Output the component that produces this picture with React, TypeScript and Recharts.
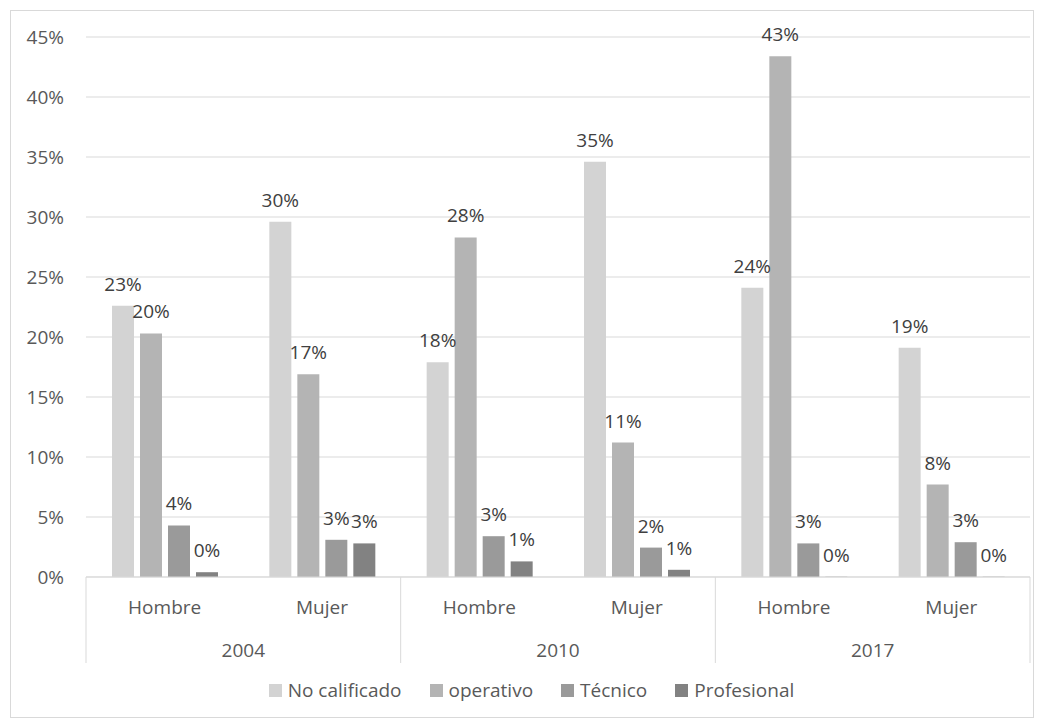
import { BarChart, Bar, XAxis, YAxis, CartesianGrid, Legend, LabelList } from "recharts";

const sexes = ["Hombre", "Mujer", "Hombre", "Mujer", "Hombre", "Mujer"];
const years = ["2004", "2004", "2010", "2010", "2017", "2017"];

const noCalificado = [22.6, 29.6, 17.9, 34.6, 24.1, 19.1];
const operativo = [20.3, 16.9, 28.3, 11.2, 43.4, 7.7];
const tecnico = [4.3, 3.1, 3.4, 2.45, 2.8, 2.9];
const profesional = [0.4, 2.8, 1.3, 0.6, 0, 0];

const yTicks = [0, 5, 10, 15, 20, 25, 30, 35, 40, 45];

const series = [
	{ key: "noCalificado", name: "No calificado", color: "#d3d3d3" },
	{ key: "operativo", name: "operativo", color: "#b4b4b4" },
	{ key: "tecnico", name: "Técnico", color: "#9a9a9a" },
	{ key: "profesional", name: "Profesional", color: "#828282" },
];

const data = sexes.map((s, i) => ({
	sexo: s,
	noCalificado: noCalificado[i],
	operativo: operativo[i],
	tecnico: tecnico[i],
	profesional: profesional[i],
}));

const FONT = "'Open Sans', sans-serif";
const TEXT = "#595959";
const LINE = "#d9d9d9";
// plot runs from x=86 to x=1030
const BAND = (1030 - 86) / sexes.length;

const GroupTick = (props: any) => {
	const { x, y, payload, index } = props;
	return (
		<g>
			<text x={x} y={y + 37} textAnchor="middle" fill={TEXT} fontSize={19} fontFamily={FONT}>
				{payload.value}
			</text>
			{index % 2 === 0 && (
				<>
					<line x1={x - BAND / 2} x2={x - BAND / 2} y1={y} y2={y + 86} stroke={LINE} />
					<text x={x + BAND / 2} y={y + 80} textAnchor="middle" fill={TEXT} fontSize={19} fontFamily={FONT}>
						{years[index]}
					</text>
				</>
			)}
			{index === sexes.length - 1 && (
				<line x1={x + BAND / 2} x2={x + BAND / 2} y1={y} y2={y + 86} stroke={LINE} />
			)}
		</g>
	);
};

const LegendContent = () => (
	<div
		style={{
			display: "flex",
			justifyContent: "center",
			gap: 28,
			fontFamily: FONT,
			fontSize: 19,
			color: TEXT,
			paddingLeft: 33,
		}}
	>
		{series.map((s) => (
			<span key={s.key} style={{ display: "inline-flex", alignItems: "center" }}>
				<span style={{ width: 13, height: 13, background: s.color, display: "inline-block", marginRight: 6 }} />
				{s.name}
			</span>
		))}
	</div>
);

const App = () => {
	return (
		<div style={{ position: "absolute", left: 0, top: 0, width: 1043, height: 727, background: "#fff" }}>
			<div
				style={{
					position: "absolute",
					left: 10,
					top: 10,
					width: 1022,
					height: 706,
					border: `1px solid ${LINE}`,
				}}
			/>
			<div style={{ position: "absolute", left: 0, top: 0 }}>
				<BarChart
					width={1043}
					height={727}
					data={data}
					margin={{ top: 37, right: 13, left: 0, bottom: 10 }}
					barSize={22}
					barGap={6}
				>
					<CartesianGrid vertical={false} stroke={LINE} strokeWidth={1} />
					<YAxis
						width={86}
						domain={[0, 45]}
						ticks={yTicks}
						tickFormatter={(v: number) => `${v}%`}
						axisLine={false}
						tickLine={false}
						tickSize={0}
						tickMargin={22}
						tick={{ fill: TEXT, fontSize: 19, fontFamily: FONT }}
					/>
					<XAxis
						dataKey="sexo"
						height={100}
						interval={0}
						axisLine={{ stroke: LINE }}
						tickLine={false}
						tickSize={0}
						tickMargin={0}
						tick={<GroupTick />}
					/>
					<Legend verticalAlign="bottom" height={40} content={<LegendContent />} />
					{series.map((s) => (
						<Bar
							key={s.key}
							dataKey={s.key}
							name={s.name}
							fill={s.color}
							minPointSize={0.2}
							isAnimationActive={false}
						>
							<LabelList
								dataKey={s.key}
								position="top"
								offset={15}
								formatter={(v: any) => `${Math.round(Number(v))}%`}
								fill="#404040"
								fontSize={19}
								fontFamily={FONT}
							/>
						</Bar>
					))}
				</BarChart>
			</div>
		</div>
	);
};

export default App;
